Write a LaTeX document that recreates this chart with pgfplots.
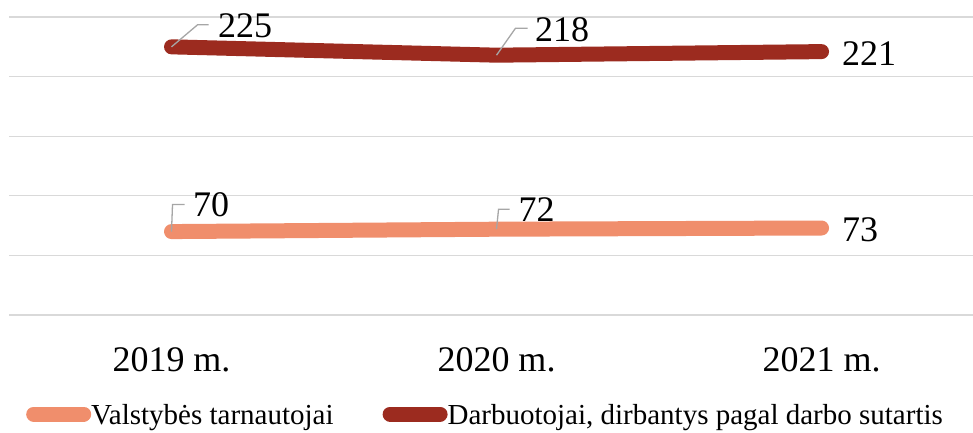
\documentclass[border=0pt]{standalone}
\usepackage{fontspec}
\setmainfont{Liberation Serif}
\usepackage{pgfplots}
\pgfplotsset{compat=1.18}
\usepackage{pgfplotstable}
\definecolor{darkred}{HTML}{9C2B1F}
\definecolor{salmon}{HTML}{F08E6C}
\definecolor{gridgray}{HTML}{D9D9D9}
\definecolor{leader}{HTML}{A6A6A6}

\pgfplotstableread{
x y dx dy
0 70 14 26.6
1 72 14.5 20
2 73 13 -1.5
}\civil
\pgfplotstableread{
x y dx dy
0 225 39 21.5
1 218 31 25
2 221 13 -2
}\contract

\begin{document}
\begin{tikzpicture}
\begin{axis}[
  scale only axis, width=964pt, height=315pt,
  xmin=-0.5, xmax=2.466, ymin=0, ymax=264.3,
  clip=false,
  axis line style={draw=none},
  tick style={draw=none},
  major tick length=0pt,
  ytick={0,50,100,150,200,250},
  yticklabels={},
  ymajorgrids,
  grid style={gridgray, line width=1.3pt},
  xtick={0,1,2},
  xticklabels={2019 m., 2020 m., 2021 m.},
  xticklabel style={font=\fontsize{36}{40}\selectfont, inner sep=0pt, anchor=north, yshift=-32pt},
  legend cell align=left,
  legend style={draw=none, fill=none, at={(0,0)}, anchor=west, xshift=14pt, yshift=-100pt,
    font=\fontsize{29}{32}\selectfont, nodes={inner sep=0pt},
    /tikz/every even column/.append style={column sep=49pt},
    /tikz/every odd column/.append style={column sep=0pt}},
  legend columns=-1,
  legend image code/.code={\draw[#1, line width=12pt, line cap=round] (6pt,1pt) -- (44pt,1pt); \path (0pt,1pt) -- (50pt,1pt);},
]
\addplot[salmon, line width=15pt, line cap=round, line join=round,
  nodes near coords, point meta=explicit symbolic,
  visualization depends on={\thisrow{dx}\as\dx},
  visualization depends on={\thisrow{dy}\as\dy},
  every node near coord/.append style={text=black, anchor=west, inner sep=0pt, xshift=\dx pt, yshift=\dy pt, font=\fontsize{36}{40}\selectfont}]
  table[x=x, y=y, meta=y] {\civil};
\addlegendentry{Valstybės tarnautojai}
\addplot[darkred, line width=15pt, line cap=round, line join=round,
  nodes near coords, point meta=explicit symbolic,
  visualization depends on={\thisrow{dx}\as\dx},
  visualization depends on={\thisrow{dy}\as\dy},
  every node near coord/.append style={text=black, anchor=west, inner sep=0pt, xshift=\dx pt, yshift=\dy pt, font=\fontsize{36}{40}\selectfont}]
  table[x=x, y=y, meta=y] {\contract};
\addlegendentry{Darbuotojai, dirbantys pagal darbo sutartis}
\draw[leader, line width=1.3pt] (axis cs:0,225) -- ++(26pt,22pt) -- ++(11pt,0pt);
\draw[leader, line width=1.3pt] (axis cs:1,218) -- ++(19pt,27pt) -- ++(12pt,0pt);
\draw[leader, line width=1.3pt] (axis cs:0,70) -- ++(1pt,27pt) -- ++(12pt,0pt);
\draw[leader, line width=1.3pt] (axis cs:1,72) -- ++(2pt,20pt) -- ++(11pt,0pt);
\end{axis}
\pgfresetboundingbox
\path[use as bounding box] ([xshift=-9pt]current axis.north west) rectangle ++(973pt,-432pt);
\end{tikzpicture}
\end{document}
